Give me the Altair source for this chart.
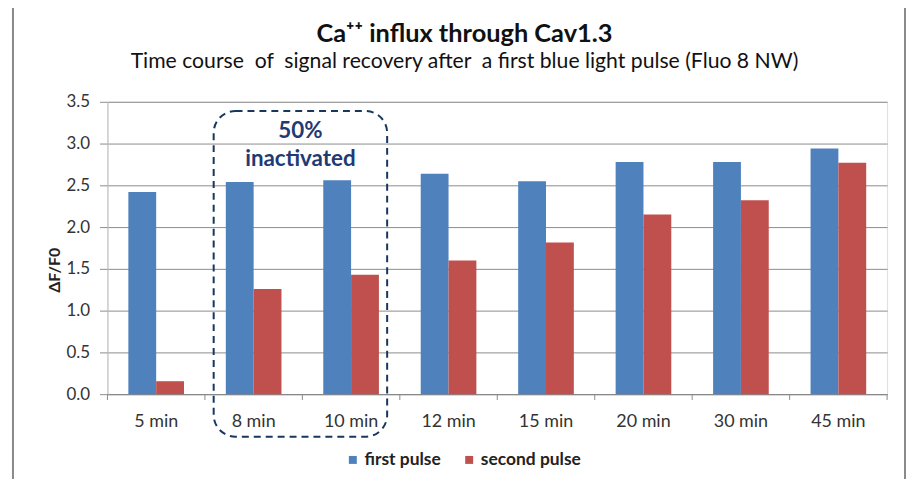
import altair as alt
import pandas as pd

# ---- data ----
categories = ["5 min", "8 min", "10 min", "12 min", "15 min", "20 min", "30 min", "45 min"]
series_names = ["first pulse", "second pulse"]
first_pulse = [2.42, 2.54, 2.56, 2.64, 2.55, 2.78, 2.78, 2.94]
second_pulse = [0.155, 1.26, 1.43, 1.60, 1.815, 2.15, 2.32, 2.77]
y_ticks = [0, 0.5, 1.0, 1.5, 2.0, 2.5, 3.0, 3.5]

# annotation (in category units: category i spans [i, i+1])
box_x = [1.09]
box_x2 = [2.87]
box_y = [3.39]
box_y2 = [-0.51]
note_x = [1.98, 1.98]
note_y = [3.15, 2.82]
note_text = ["50%", "inactivated"]
boundary_ticks = list(range(len(categories) + 1))

colors = ["#4F81BD", "#C0504D"]
FONT = "Lato"

rows = []
for c, a, b in zip(categories, first_pulse, second_pulse):
    rows.append({"time": c, "series": series_names[0], "value": a})
    rows.append({"time": c, "series": series_names[1], "value": b})
bars_df = pd.DataFrame(rows)

yscale = alt.Scale(domain=[0, 3.5], nice=False)

bars = alt.Chart(bars_df).mark_bar().encode(
    x=alt.X("time:N", sort=categories, title=None,
            scale=alt.Scale(paddingInner=0.429, paddingOuter=0.2145),
            axis=alt.Axis(labelAngle=0, ticks=False, labelPadding=19, labelFontSize=18,
                          labelFont=FONT, labelColor="#333333", domainColor="#868686",
                          domainWidth=1)),
    xOffset=alt.XOffset("series:N", sort=series_names),
    y=alt.Y("value:Q", scale=yscale, title="ΔF/F0",
            axis=alt.Axis(values=y_ticks, format=".1f", grid=True, gridColor="#8c8c8c",
                          tickColor="#8c8c8c", tickSize=8, labelPadding=10, labelFontSize=17,
                          labelFont=FONT, labelColor="#333333", domainColor="#BFBFBF",
                          titleFont=FONT, titleFontSize=16, titleFontWeight="bold",
                          titleColor="#222222", titleX=-53, titleY=169, titleAngle=270,
                          titleAlign="center", titleBaseline="middle")),
    color=alt.Color("series:N", sort=series_names,
                    scale=alt.Scale(domain=series_names, range=colors),
                    legend=alt.Legend(title=None, orient="none", legendX=238, legendY=351,
                                      direction="horizontal", symbolType="square",
                                      symbolSize=64, symbolStrokeWidth=0, labelFont=FONT,
                                      labelFontSize=17.5, labelFontWeight="bold",
                                      labelColor="#222222", columnPadding=19, labelOffset=3)),
)

qx = alt.Scale(domain=[0, len(categories)], nice=False, zero=False)

ticks_df = pd.DataFrame({"b": boundary_ticks, "y0": [0] * len(boundary_ticks),
                         "y1": [-0.07] * len(boundary_ticks)})
ticks = alt.Chart(ticks_df).mark_rule(color="#8c8c8c", strokeWidth=1).encode(
    x=alt.X("b:Q", scale=qx, axis=None),
    y=alt.Y("y0:Q", scale=yscale),
    y2="y1:Q",
)

box_df = pd.DataFrame({"x": box_x, "x2": box_x2, "y": box_y, "y2": box_y2})
box = alt.Chart(box_df).mark_rect(fillOpacity=0, stroke="#17375E", strokeWidth=2,
                                  strokeDash=[7, 5], cornerRadius=22).encode(
    x=alt.X("x:Q", scale=qx, axis=None),
    x2="x2:Q",
    y=alt.Y("y:Q", scale=yscale),
    y2="y2:Q",
)

note_df = pd.DataFrame({"x": note_x, "y": note_y, "t": note_text})
note = alt.Chart(note_df).mark_text(font=FONT, fontSize=22.5, fontWeight="bold",
                                    color="#1F3B73", baseline="middle").encode(
    x=alt.X("x:Q", scale=qx, axis=None),
    y=alt.Y("y:Q", scale=yscale),
    text="t:N",
)

frame = alt.Chart(pd.DataFrame({"k": [0]})).mark_rect(
    fillOpacity=0, stroke="#8a8a8a", strokeWidth=2).encode(
    x=alt.value(-95), x2=alt.value(802), y=alt.value(-99), y2=alt.value(420))

chart = alt.layer(frame, bars, ticks, box, note).resolve_scale(
    x="independent", color="independent"
).properties(
    width=784,
    height=294,
    autosize=alt.AutoSizeParams(type="none"),
    padding={"left": 100, "top": 93, "right": 20, "bottom": 84},
    title=alt.Title(
        "Ca⁺⁺ influx through Cav1.3",
        subtitle="Time course\u00a0 of\u00a0 signal recovery after\u00a0 a first blue light pulse (Fluo 8 NW)",
        anchor="middle", dx=-33, font=FONT, fontSize=25.5, fontWeight="bold", color="#111111",
        subtitleFont=FONT, subtitleFontSize=21.3, subtitleColor="#111111",
        subtitlePadding=3, offset=-70,
    ),
).configure_view(stroke=None).configure(background="white")

chart.save("out.html", embed_options={"renderer": "svg", "actions": False})
